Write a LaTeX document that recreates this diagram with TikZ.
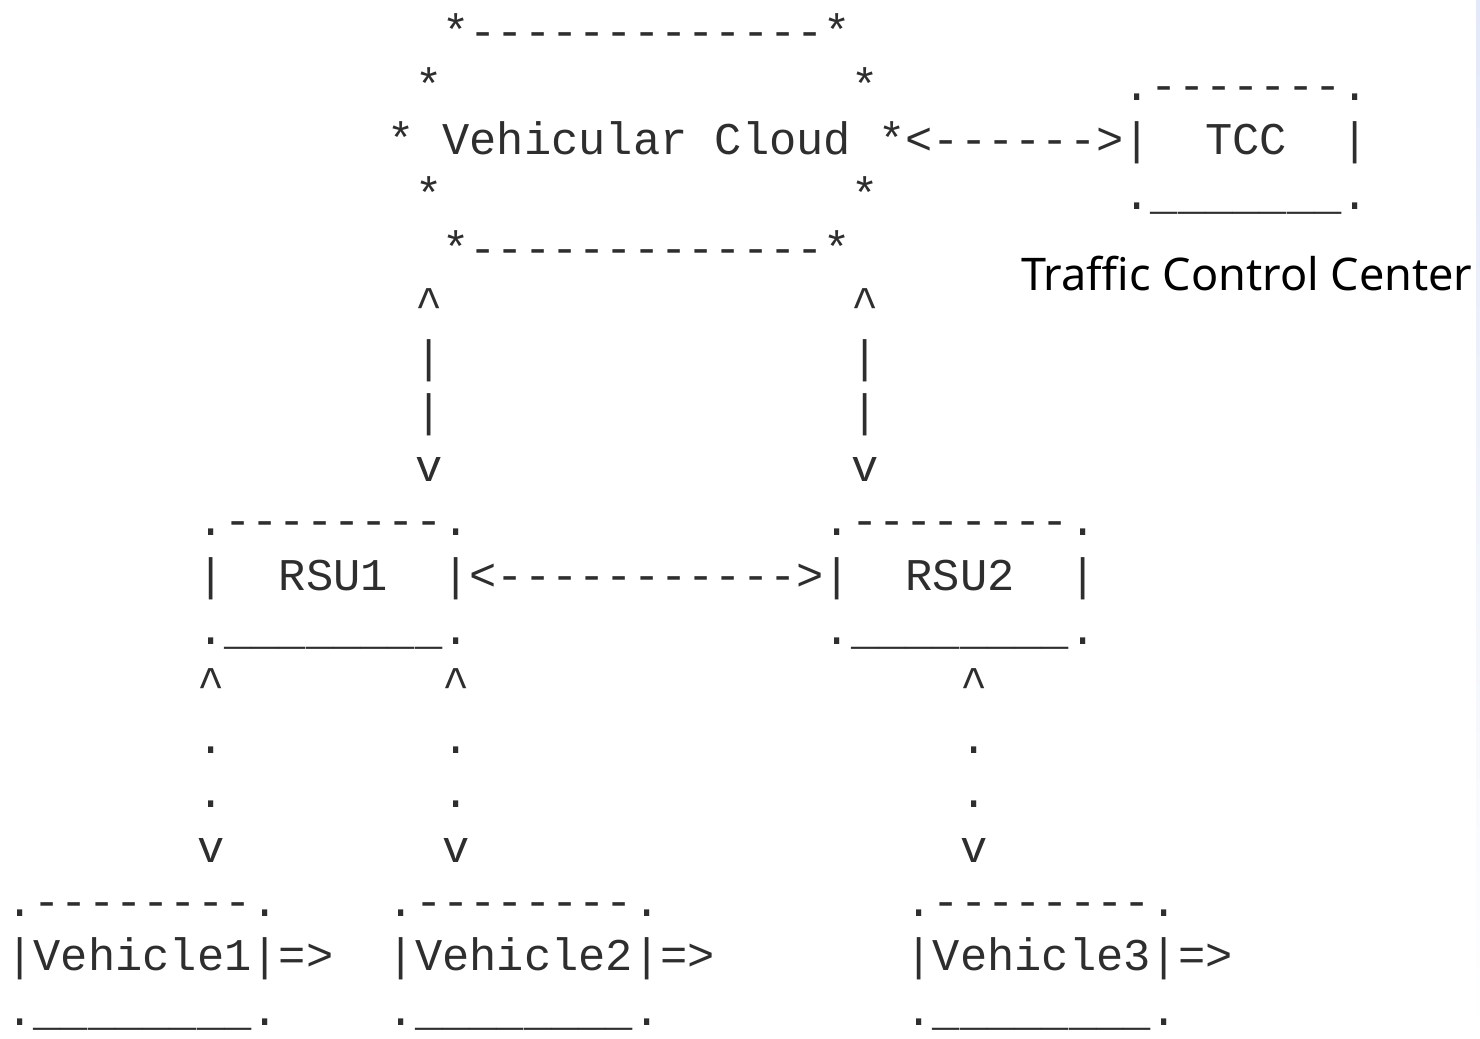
\documentclass[tikz,border=0pt]{standalone}
\usepackage{fontspec}
\setmonofont{Liberation Mono}
\newfontfamily\labelfont{Noto Sans}
\usepackage{tikz}
\definecolor{AsciiInk}{HTML}{2E2E2E}
\definecolor{EdgeBlue}{HTML}{E2E9F8}
\tikzset{
  ascii/.style={anchor=base west, inner sep=0pt, outer sep=0pt, text=AsciiInk,
                font=\ttfamily\fontsize{22.7pt}{27.2pt}\selectfont},
  label text/.style={anchor=base west, inner sep=0pt, text=black,
                font=\labelfont\fontsize{22.5pt}{28pt}\selectfont},
}

\begin{document}
\begin{tikzpicture}[x=13.625pt, y=-27.2pt]
  \useasboundingbox (0,0) rectangle (54.312,19.099);

  % one unit = one character cell, rows counted from the top
  \begin{scope}[shift={(0.235,-0.154)}]
    % vehicular cloud
    \node[ascii] (cloudtop) at (16,1) {*-------------*};
    \node[ascii] (cloudnw)  at (15,2) {*};
    \node[ascii] (cloudne)  at (31,2) {*};
    \node[ascii] (cloud)    at (14,3) {*\ Vehicular\ Cloud\ *};
    \node[ascii] (cloudsw)  at (15,4) {*};
    \node[ascii] (cloudse)  at (31,4) {*};
    \node[ascii] (cloudbot) at (16,5) {*-------------*};

    % TCC box and its link to the cloud
    \node[ascii] (cloudtcc) at (33,3) {<------>};
    \node[ascii] (tcctop)   at (41,2) {.-------.};
    \node[ascii] (tcc)      at (41,3) {|\ \ TCC\ \ |};
    \node[ascii] (tccbot)   at (41,4) {.\_\_\_\_\_\_\_.};

    % cloud <-> RSU links
    \foreach \c/\n in {15/rsuone, 31/rsutwo} {
      \node[ascii] (\n-up)   at (\c,6) {\textasciicircum};
      \node[ascii] (\n-bara) at (\c,7) {|};
      \node[ascii] (\n-barb) at (\c,8) {|};
      \node[ascii] (\n-down) at (\c,9) {v};
    }

    % road side units
    \node[ascii] (rsu1top)  at (7,10)  {.--------.};
    \node[ascii] (rsu1)     at (7,11)  {|\ \ RSU1\ \ |};
    \node[ascii] (rsu1bot)  at (7,12)  {.\_\_\_\_\_\_\_\_.};
    \node[ascii] (rsulink)  at (17,11) {<----------->};
    \node[ascii] (rsu2top)  at (30,10) {.--------.};
    \node[ascii] (rsu2)     at (30,11) {|\ \ RSU2\ \ |};
    \node[ascii] (rsu2bot)  at (30,12) {.\_\_\_\_\_\_\_\_.};

    % RSU <-> vehicle links (wireless, dotted)
    \foreach \c/\n in {7/vone, 16/vtwo, 35/vthree} {
      \node[ascii] (\n-up)   at (\c,13) {\textasciicircum};
      \node[ascii] (\n-dota) at (\c,14) {.};
      \node[ascii] (\n-dotb) at (\c,15) {.};
      \node[ascii] (\n-down) at (\c,16) {v};
    }

    % vehicles
    \foreach \c/\k in {0/1, 14/2, 33/3} {
      \node[ascii] (vehtop\k) at (\c,17) {.--------.};
      \node[ascii] (vehicle\k) at (\c,18) {|Vehicle\k|=>};
      \node[ascii] (vehbot\k) at (\c,19) {.\_\_\_\_\_\_\_\_.};
    }
  \end{scope}

  \node[label text] (tcclabel) at (37.46,5.331) {Traffic Control Center};

  % window edge at the right
  \shade[top color=EdgeBlue, bottom color=white] (54.165,0) rectangle (54.312,19.099);
\end{tikzpicture}
\end{document}
